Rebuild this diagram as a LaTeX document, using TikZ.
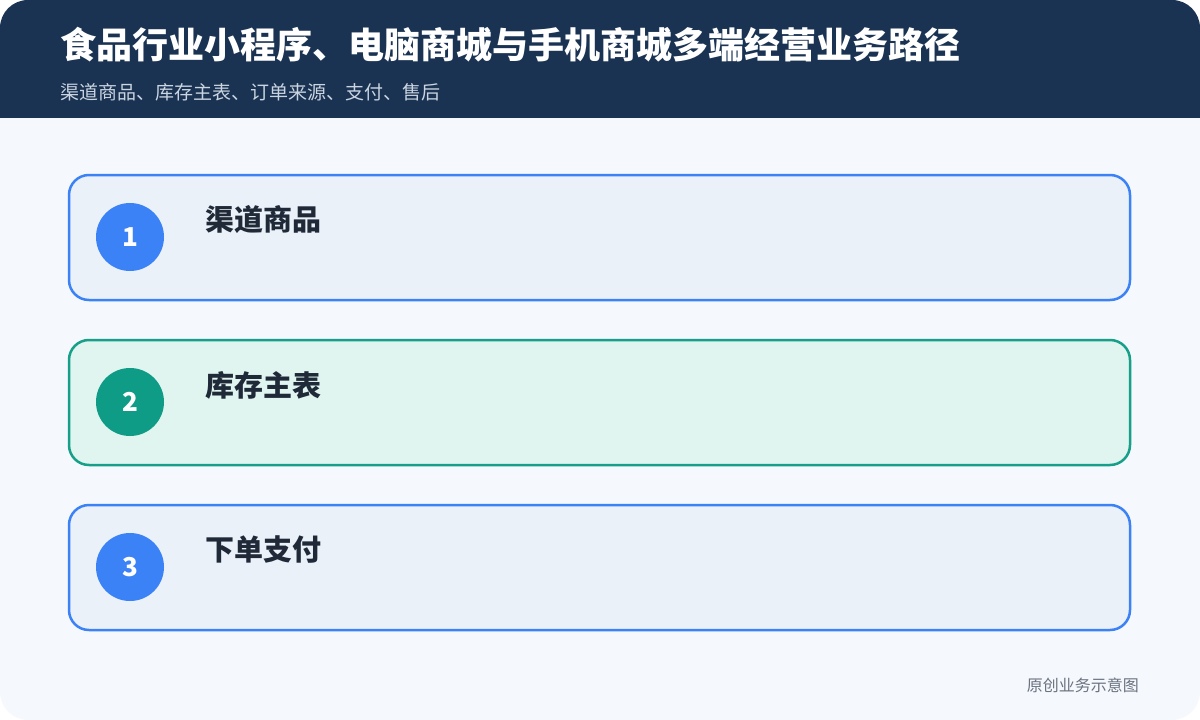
\documentclass[tikz,border=0pt]{standalone}
\usepackage{fontspec}
\setmainfont{Noto Sans CJK SC}
\definecolor{headbg}{HTML}{1A3352}
\definecolor{bodybg}{HTML}{F5F8FC}
\definecolor{bluefill}{HTML}{EAF1F9}
\definecolor{bluestroke}{HTML}{3B82F6}
\definecolor{greenfill}{HTML}{E0F4F0}
\definecolor{greenstroke}{HTML}{16A08A}
\definecolor{greencirc}{HTML}{0E9C86}
\definecolor{labeltext}{HTML}{1F2937}
\definecolor{subtext}{HTML}{CBD5E1}
\definecolor{foottext}{HTML}{6B7280}
\tikzset{
  stepbox/.style={draw, line width=2.5pt, rounded corners=20pt, minimum width=1061pt, minimum height=125pt, inner sep=0pt},
  bluebox/.style={stepbox, draw=bluestroke, fill=bluefill},
  greenbox/.style={stepbox, draw=greenstroke, fill=greenfill},
  numcirc/.style={circle, minimum size=68pt, inner sep=0pt, text=white, font=\fontsize{26pt}{26pt}\selectfont\bfseries},
  steplabel/.style={anchor=west, inner sep=0pt, text=labeltext, font=\fontsize{29pt}{29pt}\selectfont\bfseries},
}
\begin{document}
\begin{tikzpicture}[x=1pt,y=-1pt]
\useasboundingbox (0,0) rectangle (1200,720);
\begin{scope}
\clip[rounded corners=28pt] (0,0) rectangle (1200,720);
\fill[bodybg] (0,0) rectangle (1200,720);
\fill[headbg] (0,0) rectangle (1200,118);
\end{scope}
\node[anchor=west, inner sep=0pt, text=white, font=\fontsize{36pt}{36pt}\selectfont\bfseries] (title) at (60,45) {食品行业小程序、电脑商城与手机商城多端经营业务路径};
\node[anchor=west, inner sep=0pt, text=subtext, font=\fontsize{19pt}{19pt}\selectfont] (subtitle) at (60,92.5) {渠道商品、库存主表、订单来源、支付、售后};

\node[bluebox] (box1) at (599.5,237.5) {};
\node[greenbox] (box2) at (599.5,402.5) {};
\node[bluebox] (box3) at (599.5,567.5) {};

\node[numcirc, fill=bluestroke] (c1) at (130,237) {1};
\node[numcirc, fill=greencirc] (c2) at (130,402) {2};
\node[numcirc, fill=bluestroke] (c3) at (130,567) {3};

\node[steplabel] (l1) at (205,220) {渠道商品};
\node[steplabel] (l2) at (205,385) {库存主表};
\node[steplabel] (l3) at (205,550) {下单支付};

\node[anchor=east, inner sep=0pt, text=foottext, font=\fontsize{16pt}{16pt}\selectfont] (foot) at (1139,685) {原创业务示意图};
\end{tikzpicture}
\end{document}
